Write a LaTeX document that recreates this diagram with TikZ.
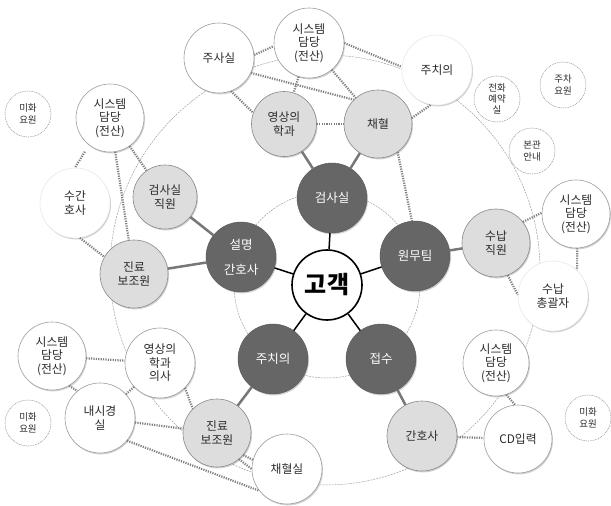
\documentclass[tikz,border=0pt]{standalone}
\usepackage{fontspec}
\newfontfamily\kr{Noto Sans CJK KR}
\usetikzlibrary{shadows}
\definecolor{darkfill}{HTML}{666666}
\definecolor{lightfill}{HTML}{DDDDDD}
\definecolor{lightline}{HTML}{888888}
\definecolor{whiteline}{HTML}{9C9C9C}
\definecolor{dotcol}{HTML}{808080}
\definecolor{thincol}{HTML}{A0A0A0}
\definecolor{linkcol}{HTML}{777777}
\definecolor{txt}{HTML}{2A2A2A}
\begin{document}
\begin{tikzpicture}[x=1pt,y=-1pt,
 base/.style={circle, inner sep=0pt, align=center, text=txt,
   drop shadow={opacity=0.18, shadow xshift=1pt, shadow yshift=-1.4pt, fill=black}},
 hub/.style={circle, draw=black, line width=1.6pt, fill=white, minimum size=70pt, inner sep=0pt,
   font=\kr\bfseries\fontsize{24}{26}\selectfont},
 darknode/.style={base, fill=darkfill, draw=darkfill!85!black, line width=0.4pt, minimum size=70pt,
   text=white, font=\kr\fontsize{12.5}{14}\selectfont},
 lightnode/.style={base, fill=lightfill, draw=lightline, line width=0.6pt, minimum size=68pt,
   font=\kr\fontsize{11.8}{13.5}\selectfont},
 whitenode/.style={base, fill=white, draw=whiteline, line width=0.6pt, minimum size=68pt,
   font=\kr\fontsize{11.8}{13.5}\selectfont},
 softnode/.style={whitenode, draw=gray!18},
 smallnode/.style={circle, draw=gray!85, dash pattern=on 1pt off 0.8pt, line width=0.5pt, fill=white,
   minimum size=46pt, inner sep=0pt, align=center, text=txt, font=\kr\fontsize{9.5}{11.5}\selectfont},
 mainlink/.style={draw=black, line width=1.5pt},
 sublink/.style={draw=linkcol, line width=2.5pt},
 dotlink/.style={draw=dotcol, line width=2.2pt, dash pattern=on 1.2pt off 1.2pt},
 ring/.style={draw=thincol, line width=0.5pt, dash pattern=on 2pt off 1pt},
]
\useasboundingbox (0,0) rectangle (611,506);
\fill[white] (0,0) rectangle (611,506);

% background rings
\draw[ring] (325,270) circle[radius=215pt];
\draw[ring] (327,285) circle[radius=93pt];

% centre
\node[hub] (ck) at (327,285) {고객};

% dark nodes
\node[darknode] (d1) at (332,198) {검사실};
\node[darknode] (d2) at (415,256) {원무팀};
\node[darknode, font=\kr\fontsize{12.5}{25}\selectfont] (d3) at (241,257) {설명\\간호사};
\node[darknode] (d4) at (273,359) {주치의};
\node[darknode] (d5) at (381,359) {접수};

% light nodes
\node[lightnode, minimum size=65pt] (l1) at (284,124) {영상의\\학과};
\node[lightnode] (l2) at (378,124) {채혈};
\node[lightnode, minimum size=64pt] (l3) at (165,197) {검사실\\직원};
\node[lightnode] (l4) at (134,274) {진료\\보조원};
\node[lightnode] (l5) at (496,243) {수납\\직원};
\node[lightnode] (l6) at (217,433) {진료\\보조원};
\node[lightnode, minimum size=70pt] (l7) at (422,436) {간호사};

% white nodes
\node[whitenode, minimum size=70pt] (w1) at (219,58) {주사실};
\node[whitenode, minimum size=70pt] (w2) at (309,43) {시스템\\담당\\(전산)};
\node[softnode, minimum size=70pt] (w3) at (437,70) {주치의};
\node[whitenode] (w4) at (110,118) {시스템\\담당\\(전산)};
\node[softnode, minimum size=70pt] (w5) at (75,203) {수간\\호사};
\node[whitenode] (w6) at (576,214) {시스템\\담당\\(전산)};
\node[softnode, minimum size=70pt] (w7) at (553,296) {수납\\총괄자};
\node[whitenode, minimum size=66pt] (w8) at (496,363) {시스템\\담당\\(전산)};
\node[whitenode] (w9) at (518,439) {CD입력};
\node[whitenode, minimum size=70pt] (w10) at (287,469) {채혈실};
\node[whitenode] (w11) at (52,356) {시스템\\담당\\(전산)};
\node[whitenode, minimum size=70pt] (w12) at (160,363) {영상의\\학과\\의사};
\node[whitenode, minimum size=70pt] (w13) at (100,418) {내시경\\실};

% small dashed nodes
\node[smallnode] (s1) at (28,114) {미화\\요원};
\node[smallnode, font=\kr\fontsize{9.5}{11}\selectfont] (s2) at (497,99) {전화\\예약\\실};
\node[smallnode] (s3) at (563,85) {주차\\요원};
\node[smallnode] (s4) at (532,151) {본관\\안내};
\node[smallnode] (s5) at (28,423) {미화\\요원};
\node[smallnode] (s6) at (588,418) {미화\\요원};

% main links
\foreach \d in {d1,d2,d3,d4,d5} \draw[mainlink] (ck) -- (\d);

% sub links
\draw[sublink] (d1) -- (l1);
\draw[sublink] (d1) -- (l2);
\draw[sublink] (d3) -- (l3);
\draw[sublink] (d3) -- (l4);
\draw[sublink] (d2) -- (l5);
\draw[sublink] (d4) -- (l6);
\draw[sublink] (d5) -- (l7);

% dotted links
\draw[dotlink] (w1.5) -- (w2.185);
\draw[dotlink] (w1.-70) -- (l1.160);
\draw[dotlink] (w1.-25) -- (l2.135);
\draw[dotlink] (w2) -- (l1);
\draw[dotlink] (w2) -- (l2);
\draw[dotlink] (w2.0) -- (w3.175);
\draw[dotlink] (l1) -- (l2);
\draw[dotlink] (l2.10) -- (w3.-100);
\draw[dotlink] (l2.-55) -- (d2.95);
\draw[dotlink] (l5.38) -- (w6.178);
\draw[dotlink] (w6.-88) -- (w7.47);
\draw[dotlink] (l5.-70) -- (w7.178);
\draw[dotlink] (w8.-72) -- (w9.95);
\draw[dotlink] (l7) -- (w9);
\draw[dotlink] (w4) -- (l3);
\draw[dotlink] (w4) -- (l4);
\draw[dotlink] ([shift={(-8,4)}]w4.-120) -- (w5.north);
\draw[dotlink] (w5.-82) -- (l4.150);
\draw[dotlink] (w11) -- (w12);
\draw[dotlink] (w11.-60) -- (w13.130);
\draw[dotlink] (w13) -- (w12);
\draw[dotlink] (w12.-45) -- (l6.135);
\draw[dotlink] (w13) -- (l6);
\draw[dotlink] (w13.-40) -- (w10.218);
\draw[dotlink] (l6.-40) -- (w10.165);
\draw[dotlink] (l6.-50) -- (w10.180);
\end{tikzpicture}
\end{document}
